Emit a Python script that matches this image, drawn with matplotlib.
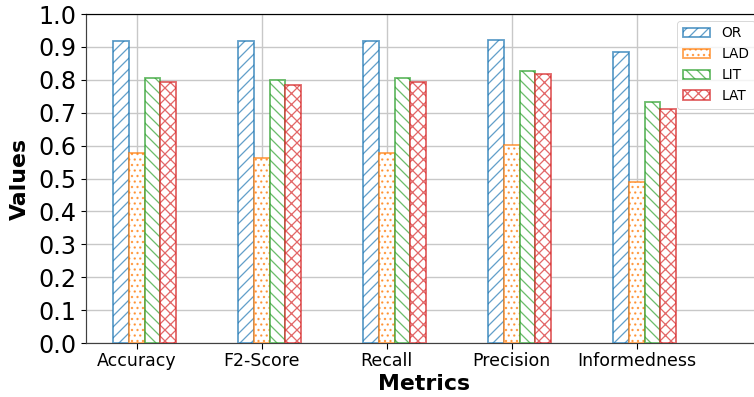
import numpy as np
import matplotlib
matplotlib.use("Agg")
import matplotlib.pyplot as plt

metrics = ["Accuracy", "F2-Score", "Recall", "Precision", "Informedness"]
methods = ["OR", "LAD", "LIT", "LAT"]
or_vals = [0.918, 0.918, 0.918, 0.921, 0.884]
lad_vals = [0.577, 0.562, 0.577, 0.602, 0.489]
lit_vals = [0.805, 0.799, 0.804, 0.828, 0.732]
lat_vals = [0.793, 0.784, 0.792, 0.817, 0.711]

colors = ["#1f77b4", "#ff7f0e", "#2ca02c", "#d62728"]
hatches = ["//", "..", "\\\\", "xx"]

plt.rcParams["hatch.linewidth"] = 1.4

fig = plt.figure(figsize=(754 / 66, 397 / 66), dpi=66)
ax = fig.add_axes([0.1134, 0.136, 0.897, 0.8287])

x = np.arange(len(metrics))
width = 0.125
series = [or_vals, lad_vals, lit_vals, lat_vals]
for i, vals in enumerate(series):
    ec = matplotlib.colors.to_rgba(colors[i], 0.7)
    ax.bar(x + (i - 1) * width, vals, width, label=methods[i],
           color="white", edgecolor=ec, hatch=hatches[i], linewidth=2,
           zorder=3)

ax.set_xlim(-0.41, 5.0)
ax.set_ylim(0, 1.0)
ax.set_yticks(np.arange(0, 1.01, 0.1))
ax.set_xticks(x)
ax.set_xticklabels(metrics, fontsize=19)
ax.tick_params(axis="y", labelsize=26)
ax.tick_params(length=6, width=1.2)
ax.grid(True, color="#c8c8c8", linewidth=1.5, zorder=0)
ax.set_axisbelow(True)
for s in ["left", "bottom"]:
    ax.spines[s].set_color("#404040")
    ax.spines[s].set_linewidth(1.3)
ax.spines["top"].set_color("black")
ax.spines["top"].set_linewidth(1.3)

ax.set_xlabel("Metrics", fontsize=24, fontweight="bold", labelpad=5)
ax.set_ylabel("Values", fontsize=24, fontweight="bold", labelpad=10)
ax.legend(loc="upper right", fontsize=15)

fig.savefig("out.png", dpi=66)
